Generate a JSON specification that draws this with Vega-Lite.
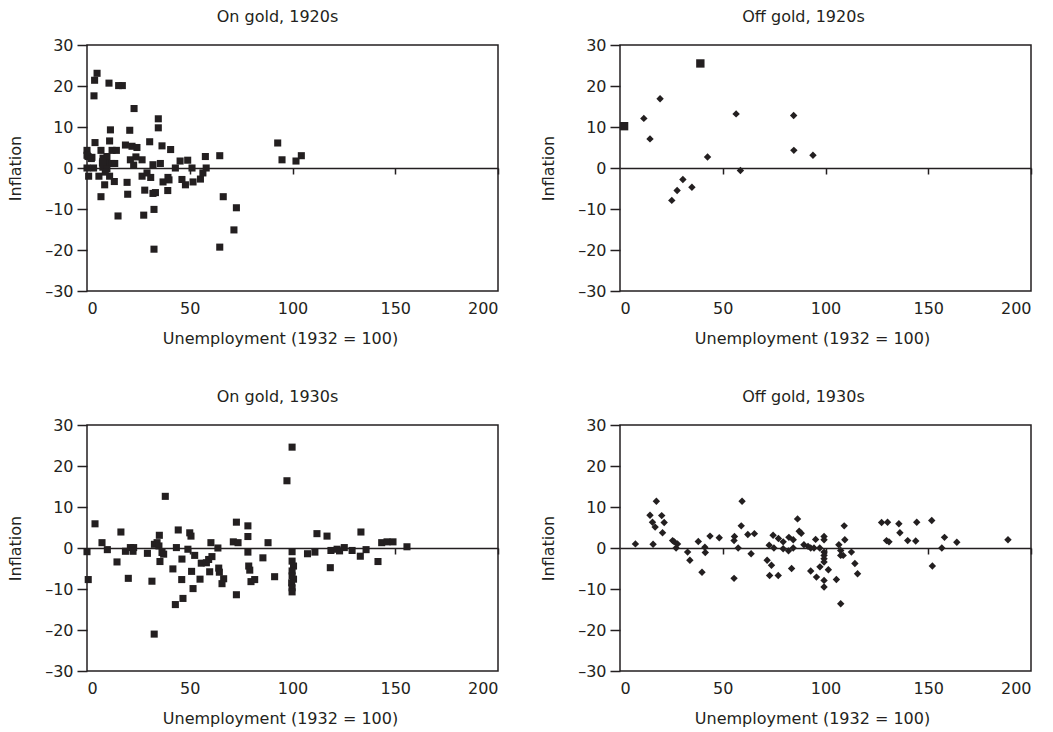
{
  "$schema": "https://vega.github.io/schema/vega-lite/v6.json",
  "autosize": {"type": "pad"},
  "padding": {"left": 6, "top": 8, "right": 0, "bottom": 0},
  "background": "white",
  "bounds": "flush",
  "columns": 2,
  "spacing": {"row": 134, "column": 122},
  "datasets": {
    "g20": [
      {"u":4.9,"i":23.1},{"u":3.7,"i":21.4},{"u":10.7,"i":20.7},{"u":15.4,"i":20.1},{"u":17.2,"i":20.1},{"u":3.4,"i":17.6},{"u":22.9,"i":14.5},{"u":34.7,"i":12.0},{"u":34.7,"i":9.8},{"u":11.4,"i":9.3},{"u":20.8,"i":9.2},{"u":3.9,"i":6.2},{"u":11.0,"i":6.6},{"u":30.5,"i":6.4},{"u":18.7,"i":5.6},{"u":21.9,"i":5.3},{"u":24.3,"i":5.0},{"u":36.5,"i":5.4},{"u":40.7,"i":4.5},{"u":0,"i":4.3},{"u":6.8,"i":4.3},{"u":12.2,"i":4.3},{"u":14.3,"i":4.3},{"u":0.5,"i":2.8},{"u":2.4,"i":2.6},{"u":7.8,"i":2.4},{"u":9.7,"i":2.8},{"u":21.1,"i":2.0},{"u":23.8,"i":2.7},{"u":26.8,"i":2.0},{"u":45.3,"i":1.7},{"u":49.0,"i":1.9},{"u":57.6,"i":2.8},{"u":64.6,"i":3.0},{"u":92.8,"i":6.1},{"u":94.9,"i":2.0},{"u":101.7,"i":1.7},{"u":104.3,"i":3.0},{"u":7.5,"i":1.2},{"u":9.7,"i":1.1},{"u":12.2,"i":1.1},{"u":13.5,"i":1.1},{"u":0,"i":0},{"u":3.2,"i":0},{"u":7.7,"i":0.2},{"u":9.7,"i":-0.2},{"u":22.7,"i":0.7},{"u":32.1,"i":0.8},{"u":35.7,"i":1.1},{"u":43,"i":0},{"u":51.1,"i":0},{"u":58,"i":0},{"u":0.8,"i":-2.0},{"u":5.8,"i":-2.0},{"u":11.0,"i":-2.0},{"u":26.8,"i":-2.0},{"u":29.2,"i":-1.2},{"u":31,"i":-2.3},{"u":39.4,"i":-2.3},{"u":39.9,"i":-2.9},{"u":37,"i":-3.4},{"u":46.2,"i":-2.8},{"u":47.9,"i":-4.1},{"u":51.6,"i":-3.4},{"u":55.2,"i":-2.7},{"u":56.4,"i":-1.2},{"u":8.6,"i":-4.1},{"u":13.3,"i":-3.3},{"u":19.5,"i":-3.5},{"u":39.3,"i":-5.5},{"u":28.1,"i":-5.4},{"u":32.1,"i":-6.2},{"u":33.3,"i":-6.0},{"u":19.8,"i":-6.4},{"u":6.8,"i":-7.0},{"u":66.3,"i":-7.0},{"u":72.7,"i":-9.7},{"u":32.6,"i":-10.1},{"u":15.1,"i":-11.7},{"u":27.6,"i":-11.5},{"u":71.5,"i":-15.1},{"u":32.6,"i":-19.8},{"u":64.6,"i":-19.3},{"u":0,"i":3.1},{"u":2.1,"i":2.3},{"u":8.9,"i":-1.0},{"u":7.7,"i":1.6}
    ],
    "o20": [
      {"u":2.0,"i":10.2,"obs":"several"},{"u":39.1,"i":25.5,"obs":"several"},
      {"u":11.6,"i":12.1,"obs":"one"},{"u":14.6,"i":7.1,"obs":"one"},{"u":19.5,"i":16.9,"obs":"one"},{"u":42.6,"i":2.7,"obs":"one"},{"u":56.5,"i":13.2,"obs":"one"},{"u":58.6,"i":-0.6,"obs":"one"},{"u":25.2,"i":-7.9,"obs":"one"},{"u":27.8,"i":-5.5,"obs":"one"},{"u":30.6,"i":-2.8,"obs":"one"},{"u":35.0,"i":-4.7,"obs":"one"},{"u":84.5,"i":12.8,"obs":"one"},{"u":84.6,"i":4.3,"obs":"one"},{"u":93.9,"i":3.1,"obs":"one"}
    ],
    "g30": [
      {"u":99.8,"i":24.6},{"u":97.3,"i":16.4},{"u":38.1,"i":12.6},{"u":3.9,"i":5.9},{"u":16.5,"i":3.9},{"u":44.4,"i":4.4},{"u":35.2,"i":3.1},{"u":50,"i":3.7},{"u":50.6,"i":2.9},{"u":72.7,"i":6.3},{"u":78.3,"i":5.4},{"u":78.3,"i":2.8},{"u":7.3,"i":1.3},{"u":9.9,"i":-0.4},{"u":0,"i":-0.9},{"u":18.7,"i":-0.8},{"u":21.1,"i":0.1},{"u":22.7,"i":0.1},{"u":22.4,"i":-0.8},{"u":32.8,"i":0.9},{"u":34.1,"i":1.3},{"u":35,"i":0.5},{"u":36.5,"i":-1.1},{"u":37.3,"i":-1.5},{"u":29.4,"i":-1.3},{"u":43.5,"i":0.1},{"u":49.1,"i":-0.3},{"u":52.4,"i":-1.8},{"u":60.3,"i":1.3},{"u":63.7,"i":0},{"u":71.2,"i":1.5},{"u":73.5,"i":1.3},{"u":78.3,"i":-1.0},{"u":88.1,"i":1.3},{"u":85.6,"i":-2.4},{"u":14.6,"i":-3.4},{"u":35.5,"i":-3.3},{"u":46.2,"i":-2.7},{"u":55.6,"i":-3.7},{"u":58.1,"i":-3.6},{"u":59.2,"i":-2.8},{"u":60.8,"i":-2.1},{"u":41.8,"i":-5.1},{"u":50.9,"i":-5.7},{"u":64.1,"i":-4.9},{"u":64.4,"i":-5.9},{"u":78.7,"i":-4.4},{"u":79.2,"i":-5.4},{"u":0.6,"i":-7.7},{"u":20.1,"i":-7.4},{"u":31.6,"i":-8.1},{"u":46.1,"i":-7.7},{"u":55,"i":-7.6},{"u":59.7,"i":-5.8},{"u":66.5,"i":-7.5},{"u":65.7,"i":-8.7},{"u":79.8,"i":-8.2},{"u":81.6,"i":-7.7},{"u":91.3,"i":-7.0},{"u":51.6,"i":-9.9},{"u":46.7,"i":-12.3},{"u":43,"i":-13.8},{"u":72.7,"i":-11.4},{"u":32.7,"i":-21.0},{"u":99.8,"i":-0.9},{"u":99.8,"i":-3.2},{"u":100.5,"i":-4.4},{"u":99.8,"i":-5.6},{"u":99.8,"i":-6.8},{"u":100.5,"i":-7.6},{"u":99.6,"i":-8.5},{"u":99.8,"i":-9.7},{"u":99.8,"i":-10.7},{"u":111.9,"i":3.5},{"u":116.8,"i":2.9},{"u":133.3,"i":3.9},{"u":143.4,"i":1.3},{"u":146,"i":1.5},{"u":148.9,"i":1.5},{"u":155.7,"i":0.3},{"u":107.3,"i":-1.4},{"u":110.9,"i":-1.0},{"u":118.7,"i":-0.6},{"u":121.7,"i":-0.3},{"u":122.9,"i":-0.7},{"u":125.2,"i":0.1},{"u":129,"i":-0.6},{"u":133,"i":-2.0},{"u":135.8,"i":-0.4},{"u":141.6,"i":-3.3},{"u":118.4,"i":-4.8}
    ],
    "o30": [
      {"u":7.5,"i":1.0},{"u":14.6,"i":8.0},{"u":17.7,"i":11.4},{"u":20.3,"i":7.9},{"u":15.8,"i":6.3},{"u":17.1,"i":5.1},{"u":21.5,"i":6.2},{"u":20.7,"i":3.7},{"u":16.1,"i":0.9},{"u":25.6,"i":1.8},{"u":26.4,"i":1.5},{"u":28,"i":1.0},{"u":27.3,"i":0},{"u":32.9,"i":-1.0},{"u":34,"i":-3.0},{"u":38.1,"i":1.6},{"u":41.3,"i":0.2},{"u":41.5,"i":-1.1},{"u":39.9,"i":-5.9},{"u":43.8,"i":2.9},{"u":48.3,"i":2.5},{"u":55.5,"i":1.8},{"u":55.7,"i":2.8},{"u":57.5,"i":0},{"u":55.5,"i":-7.4},{"u":59.4,"i":11.4},{"u":59,"i":5.4},{"u":62.2,"i":3.3},{"u":65.4,"i":3.5},{"u":63.8,"i":-1.4},{"u":71.6,"i":-3.0},{"u":73.7,"i":-4.2},{"u":72.8,"i":-6.7},{"u":77,"i":-6.7},{"u":72.6,"i":0.7},{"u":74.5,"i":3.1},{"u":74.9,"i":0},{"u":77.1,"i":2.3},{"u":79.4,"i":1.5},{"u":79.4,"i":-0.2},{"u":82.2,"i":2.6},{"u":84.3,"i":2.0},{"u":82,"i":-0.7},{"u":84.3,"i":0},{"u":83.5,"i":-5.0},{"u":86.4,"i":7.1},{"u":87.2,"i":4.1},{"u":88.2,"i":3.6},{"u":89.5,"i":0.8},{"u":91.5,"i":0.4},{"u":92.8,"i":0},{"u":94.4,"i":0},{"u":95.2,"i":2.1},{"u":92.8,"i":-5.6},{"u":95.6,"i":-7.1},{"u":97.3,"i":-4.6},{"u":99.3,"i":2.8},{"u":99.3,"i":2.0},{"u":97.2,"i":0},{"u":99.3,"i":-1.0},{"u":99.3,"i":-1.8},{"u":99.3,"i":-2.6},{"u":99.3,"i":-3.4},{"u":101.4,"i":-5.3},{"u":99.3,"i":-7.9},{"u":99.3,"i":-9.5},{"u":105.3,"i":-7.7},{"u":106.5,"i":0.8},{"u":107.4,"i":-0.6},{"u":107.4,"i":-1.8},{"u":108.6,"i":-1.8},{"u":109.1,"i":5.4},{"u":109.4,"i":2.0},{"u":112.6,"i":-1.0},{"u":114.3,"i":-3.8},{"u":115.6,"i":-6.3},{"u":107.4,"i":-13.6},{"u":127.3,"i":6.2},{"u":130.2,"i":6.3},{"u":129.7,"i":1.8},{"u":130.9,"i":1.5},{"u":135.7,"i":5.9},{"u":136.2,"i":3.7},{"u":140,"i":1.8},{"u":143.9,"i":1.7},{"u":144.4,"i":6.3},{"u":151.7,"i":6.7},{"u":152,"i":-4.4},{"u":156.6,"i":0},{"u":157.9,"i":2.6},{"u":163.9,"i":1.4},{"u":188.8,"i":2.0}
    ]
  },
  "concat": [
    {
      "width": 411, "height": 246,
      "title": {"text": "On gold, 1920s", "dx": -15},
      "data": {"name": "g20"},
      "layer": [
        {
          "mark": {"type": "point", "shape": "square", "filled": true, "size": 50, "color": "#231f20", "opacity": 1},
          "encoding": {
            "x": {"field": "u", "type": "quantitative", "scale": {"domain": [0, 200], "nice": false}, "axis": {"orient": "bottom", "values": [0, 50, 100, 150, 200], "ticks": false, "domain": false, "labelPadding": 9, "titlePadding": 14, "titleX": 193, "title": "Unemployment (1932 = 100)"}},
            "y": {"field": "i", "type": "quantitative", "scale": {"domain": [-30, 30], "nice": false}, "axis": {"values": [-30, -20, -10, 0, 10, 20, 30], "tickSize": 10, "labelPadding": 4, "domain": false, "titlePadding": 21, "labelExpr": "replace(datum.label, '\u2212', '\u2013')", "title": "Inflation"}}
          }
        },
        {
          "mark": {"type": "point", "opacity": 0},
          "encoding": {
            "x": {"field": "u", "type": "quantitative", "axis": {"orient": "bottom", "offset": -123, "labels": false, "title": null, "values": [50, 100, 150, 200], "tickSize": 6, "domain": true}},
            "y": {"field": "i", "type": "quantitative"}
          }
        }
      ],
      "resolve": {"axis": {"x": "independent"}}
    },
    {
      "width": 411, "height": 246,
      "title": {"text": "Off gold, 1920s", "dx": -22},
      "data": {"name": "o20"},
      "layer": [
        {
          "mark": {"type": "point", "filled": true, "color": "#231f20", "opacity": 1},
          "encoding": {
            "x": {"field": "u", "type": "quantitative", "scale": {"domain": [0, 200], "nice": false}, "axis": {"orient": "bottom", "values": [0, 50, 100, 150, 200], "ticks": false, "domain": false, "labelPadding": 9, "titlePadding": 14, "titleX": 192, "title": "Unemployment (1932 = 100)"}},
            "y": {"field": "i", "type": "quantitative", "scale": {"domain": [-30, 30], "nice": false}, "axis": {"values": [-30, -20, -10, 0, 10, 20, 30], "tickSize": 10, "labelPadding": 4, "domain": false, "titlePadding": 21, "labelExpr": "replace(datum.label, '\u2212', '\u2013')", "title": "Inflation"}},
            "shape": {"field": "obs", "type": "nominal", "scale": {"domain": ["one", "several"], "range": ["diamond", "square"]}, "legend": null},
            "size": {"field": "obs", "type": "nominal", "scale": {"domain": ["one", "several"], "range": [55, 70]}, "legend": null}
          }
        },
        {
          "mark": {"type": "point", "opacity": 0},
          "encoding": {
            "x": {"field": "u", "type": "quantitative", "axis": {"orient": "bottom", "offset": -123, "labels": false, "title": null, "values": [50, 100, 150, 200], "tickSize": 6, "domain": true}},
            "y": {"field": "i", "type": "quantitative"}
          }
        }
      ],
      "resolve": {"axis": {"x": "independent"}}
    },
    {
      "width": 411, "height": 246,
      "title": {"text": "On gold, 1930s", "dx": -15},
      "data": {"name": "g30"},
      "layer": [
        {
          "mark": {"type": "point", "shape": "square", "filled": true, "size": 50, "color": "#231f20", "opacity": 1},
          "encoding": {
            "x": {"field": "u", "type": "quantitative", "scale": {"domain": [0, 200], "nice": false}, "axis": {"orient": "bottom", "values": [0, 50, 100, 150, 200], "ticks": false, "domain": false, "labelPadding": 9, "titlePadding": 14, "titleX": 193, "title": "Unemployment (1932 = 100)"}},
            "y": {"field": "i", "type": "quantitative", "scale": {"domain": [-30, 30], "nice": false}, "axis": {"values": [-30, -20, -10, 0, 10, 20, 30], "tickSize": 10, "labelPadding": 4, "domain": false, "titlePadding": 21, "labelExpr": "replace(datum.label, '\u2212', '\u2013')", "title": "Inflation"}}
          }
        },
        {
          "mark": {"type": "point", "opacity": 0},
          "encoding": {
            "x": {"field": "u", "type": "quantitative", "axis": {"orient": "bottom", "offset": -123, "labels": false, "title": null, "values": [50, 100, 150, 200], "tickSize": 6, "domain": true}},
            "y": {"field": "i", "type": "quantitative"}
          }
        }
      ],
      "resolve": {"axis": {"x": "independent"}}
    },
    {
      "width": 411, "height": 246,
      "title": {"text": "Off gold, 1930s", "dx": -22},
      "data": {"name": "o30"},
      "layer": [
        {
          "mark": {"type": "point", "shape": "diamond", "filled": true, "size": 55, "color": "#231f20", "opacity": 1},
          "encoding": {
            "x": {"field": "u", "type": "quantitative", "scale": {"domain": [0, 200], "nice": false}, "axis": {"orient": "bottom", "values": [0, 50, 100, 150, 200], "ticks": false, "domain": false, "labelPadding": 9, "titlePadding": 14, "titleX": 192, "title": "Unemployment (1932 = 100)"}},
            "y": {"field": "i", "type": "quantitative", "scale": {"domain": [-30, 30], "nice": false}, "axis": {"values": [-30, -20, -10, 0, 10, 20, 30], "tickSize": 10, "labelPadding": 4, "domain": false, "titlePadding": 21, "labelExpr": "replace(datum.label, '\u2212', '\u2013')", "title": "Inflation"}}
          }
        },
        {
          "mark": {"type": "point", "opacity": 0},
          "encoding": {
            "x": {"field": "u", "type": "quantitative", "axis": {"orient": "bottom", "offset": -123, "labels": false, "title": null, "values": [50, 100, 150, 200], "tickSize": 6, "domain": true}},
            "y": {"field": "i", "type": "quantitative"}
          }
        }
      ],
      "resolve": {"axis": {"x": "independent"}}
    }
  ],
  "config": {
    "font": "DejaVu Sans",
    "view": {"stroke": "#231f20", "strokeWidth": 1.5},
    "axis": {
      "grid": false,
      "labelFont": "DejaVu Sans", "labelFontSize": 16, "labelColor": "#231f20",
      "titleFont": "DejaVu Sans", "titleFontSize": 16, "titleFontWeight": "normal", "titleColor": "#231f20",
      "tickColor": "#231f20", "tickWidth": 1.5, "domainColor": "#231f20", "domainWidth": 1.5
    },
    "title": {"font": "DejaVu Sans", "fontSize": 16, "fontWeight": "normal", "color": "#231f20", "offset": 12}
  }
}
